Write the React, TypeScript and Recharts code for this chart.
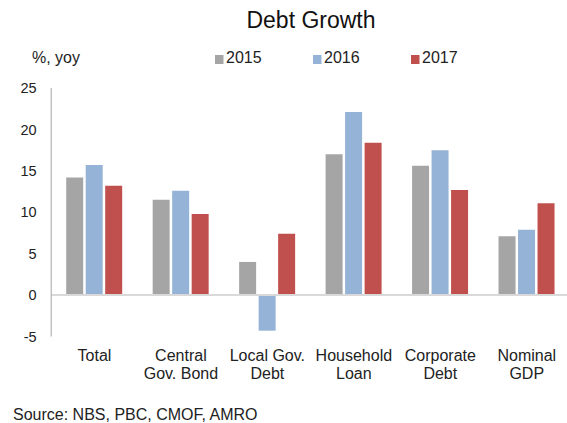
import React from "react";
import { BarChart, Bar, XAxis, YAxis, ReferenceLine } from "recharts";

const categories = ["Total", "Central\nGov. Bond", "Local Gov.\nDebt", "Household\nLoan", "Corporate\nDebt", "Nominal\nGDP"];
const values2015 = [14.2, 11.5, 4.0, 17.0, 15.6, 7.1];
const values2016 = [15.7, 12.6, -4.3, 22.1, 17.5, 7.9];
const values2017 = [13.2, 9.8, 7.4, 18.4, 12.7, 11.1];
const seriesNames = ["2015", "2016", "2017"];
const seriesColors = ["#a5a5a5", "#95b3d7", "#c0504d"];
const yTicks = [-5, 0, 5, 10, 15, 20, 25];
const title = "Debt Growth";
const unitLabel = "%, yoy";
const sourceText = "Source: NBS, PBC, CMOF, AMRO";

const data = categories.map((c, i) => ({
  name: c,
  s2015: values2015[i],
  s2016: values2016[i],
  s2017: values2017[i],
}));
const keys = ["s2015", "s2016", "s2017"];

const FONT = "'Liberation Sans', Arial, sans-serif";

const XTick = (props: any) => {
  const { x, y, payload } = props;
  const lines = String(payload.value).split("\n");
  return (
    <text x={x} y={y} textAnchor="middle" fill="#222" fontSize={16} fontFamily={FONT}>
      {lines.map((l: string, i: number) => (
        <tspan key={i} x={x} dy={i === 0 ? 24.5 : 18}>
          {l}
        </tspan>
      ))}
    </text>
  );
};

export default function App() {
  const legendX = [215, 313, 411];
  return (
    <div style={{ position: "absolute", left: 0, top: 0, width: 567, height: 423, overflow: "hidden", background: "#fff" }}>
      <BarChart
        width={580}
        height={423}
        data={data}
        margin={{ top: 88, right: 10, left: 11.2, bottom: 46.5 }}
        barSize={17}
        barGap={2.5}
      >
        <XAxis dataKey="name" tickLine={false} axisLine={false} tickSize={0} tickMargin={0} height={40} interval={0} tick={<XTick />} />
        <YAxis
          type="number"
          domain={[-5, 25]}
          ticks={yTicks}
          width={40}
          tickLine={false}
          tickSize={0}
          tickMargin={14.5}
          axisLine={{ stroke: "#a6a6a6", strokeWidth: 1 }}
          tick={{ fill: "#222", fontSize: 14.5, fontFamily: FONT }}
          interval={0}
        />
        {keys.map((k, i) => (
          <Bar key={k} dataKey={k} fill={seriesColors[i]} isAnimationActive={false} />
        ))}
        <ReferenceLine y={0} stroke="#d9d9d9" strokeWidth={2} />
      </BarChart>
      <svg width={567} height={423} style={{ position: "absolute", left: 0, top: 0, pointerEvents: "none" }}>
        <text x={311} y={28} textAnchor="middle" fontSize={23} fontFamily={FONT} fill="#111">
          {title}
        </text>
        <text x={32} y={63} fontSize={16} fontFamily={FONT} fill="#222">
          {unitLabel}
        </text>
        {seriesNames.map((n, i) => (
          <g key={n}>
            <rect x={legendX[i]} y={55} width={8.5} height={9} fill={seriesColors[i]} />
            <text x={legendX[i] + 11} y={63} fontSize={16} fontFamily={FONT} fill="#222">
              {n}
            </text>
          </g>
        ))}
        <text x={13} y={420} fontSize={16} fontFamily={FONT} fill="#222">
          {sourceText}
        </text>
      </svg>
    </div>
  );
}
